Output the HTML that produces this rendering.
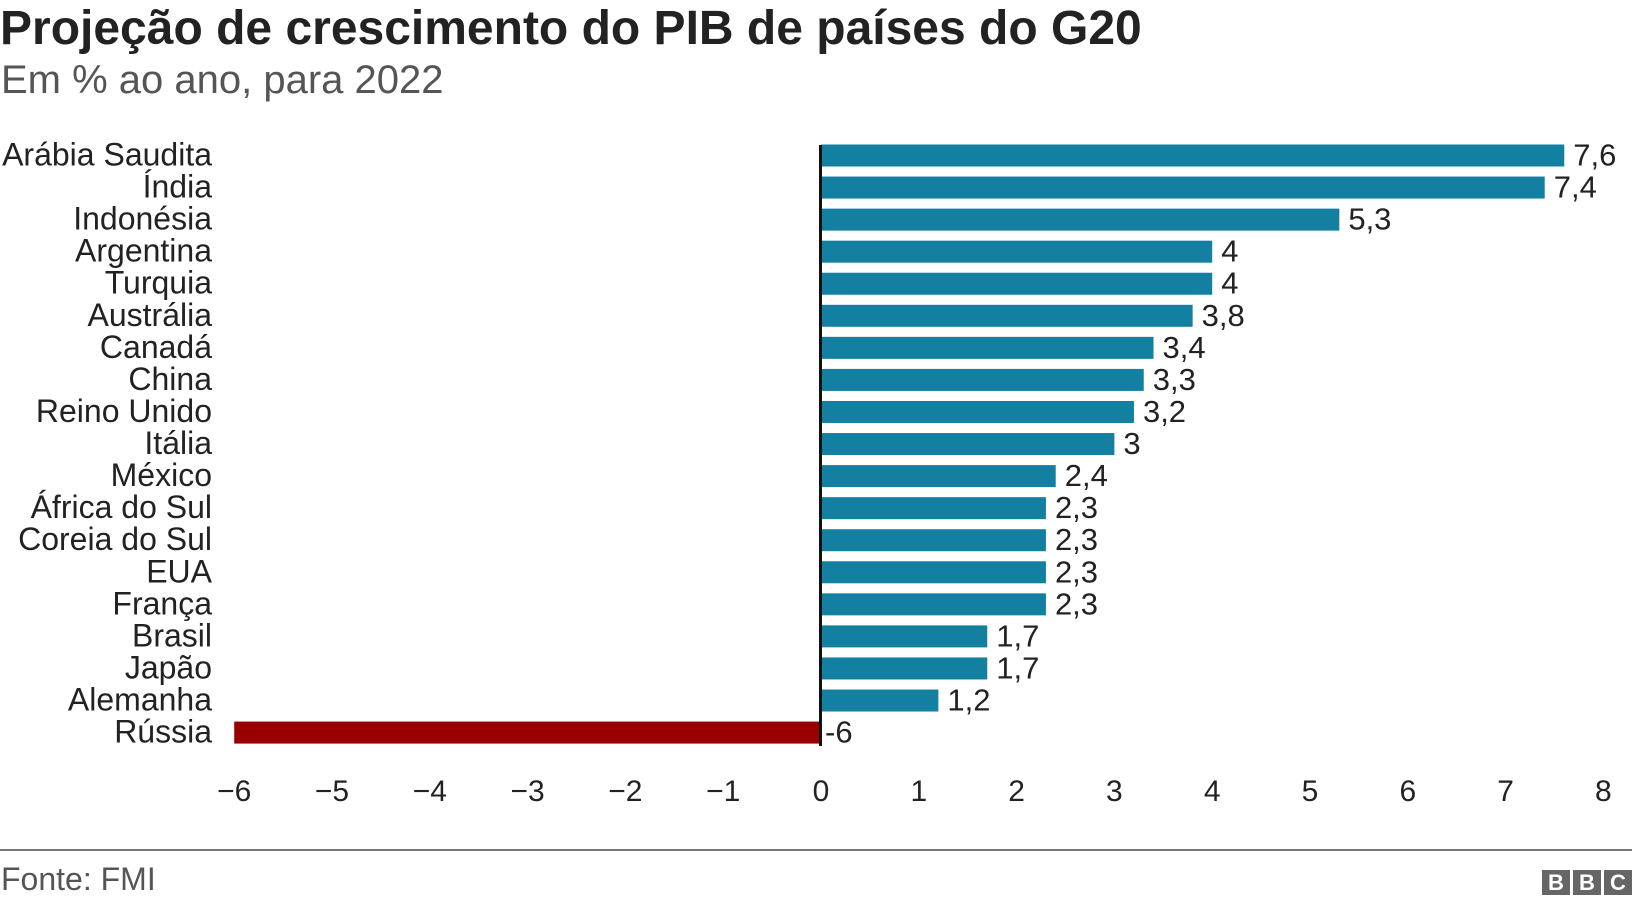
<!DOCTYPE html>
<html><head><meta charset="utf-8"><style>
body{margin:0;width:1632px;height:906px;background:#fff;font-family:"Liberation Sans",sans-serif;overflow:hidden;position:relative}
.t{position:absolute;white-space:nowrap}
</style></head><body>
<div class="t" style="left:0px;top:1px;font-size:48px;font-weight:bold;color:#222">Projeção de crescimento do PIB de países do G20</div>
<div class="t" style="left:1px;top:58px;font-size:40px;color:#555">Em % ao ano, para 2022</div>
<svg width="1632" height="906" style="position:absolute;left:0;top:0" font-family="Liberation Sans, sans-serif">
<g id="bars"></g>
</svg>
<div class="t" style="left:1px;top:861px;font-size:32px;color:#555">Fonte: FMI</div>
<div style="position:absolute;left:0;top:849px;width:1632px;height:2px;background:#777"></div>
<div style="position:absolute;left:1542px;top:870px;display:flex;gap:3px">
<div style="width:28px;height:25px;background:#666;color:#fff;font:bold 22px 'Liberation Sans';text-align:center;line-height:25px">B</div>
<div style="width:28px;height:25px;background:#666;color:#fff;font:bold 22px 'Liberation Sans';text-align:center;line-height:25px">B</div>
<div style="width:28px;height:25px;background:#666;color:#fff;font:bold 22px 'Liberation Sans';text-align:center;line-height:25px">C</div>
</div>
<script>
const d=[["Arábia Saudita",7.6],["Índia",7.4],["Indonésia",5.3],["Argentina",4],["Turquia",4],["Austrália",3.8],["Canadá",3.4],["China",3.3],["Reino Unido",3.2],["Itália",3],["México",2.4],["África do Sul",2.3],["Coreia do Sul",2.3],["EUA",2.3],["França",2.3],["Brasil",1.7],["Japão",1.7],["Alemanha",1.2],["Rússia",-6]];
const z=821,u=97.8;let s="";
d.forEach((r,i)=>{const y=144.5+i*32.06,v=r[1];const x1=v>=0?z:z+v*u,w=Math.abs(v)*u;
s+=`<rect x="${x1}" y="${y}" width="${w}" height="22" fill="${v<0?'#990000':'#1380a1'}"/>`;
s+=`<text x="212" y="${y+21}" text-anchor="end" font-size="32" fill="#222">${r[0]}</text>`;
const lx=v>=0?z+w+9:z+4;
s+=`<text x="${lx}" y="${y+21}" font-size="31" fill="#222">${String(v).replace('.',',')}</text>`;});
s+=`<rect x="${z-2}" y="145" width="3" height="601" fill="#111"/>`;
for(let k=-6;k<=8;k++){s+=`<text x="${z+k*u}" y="801" text-anchor="middle" font-size="30" fill="#222">${k<0?'−'+(-k):k}</text>`;}
document.getElementById('bars').innerHTML=s;
</script>
</body></html>
